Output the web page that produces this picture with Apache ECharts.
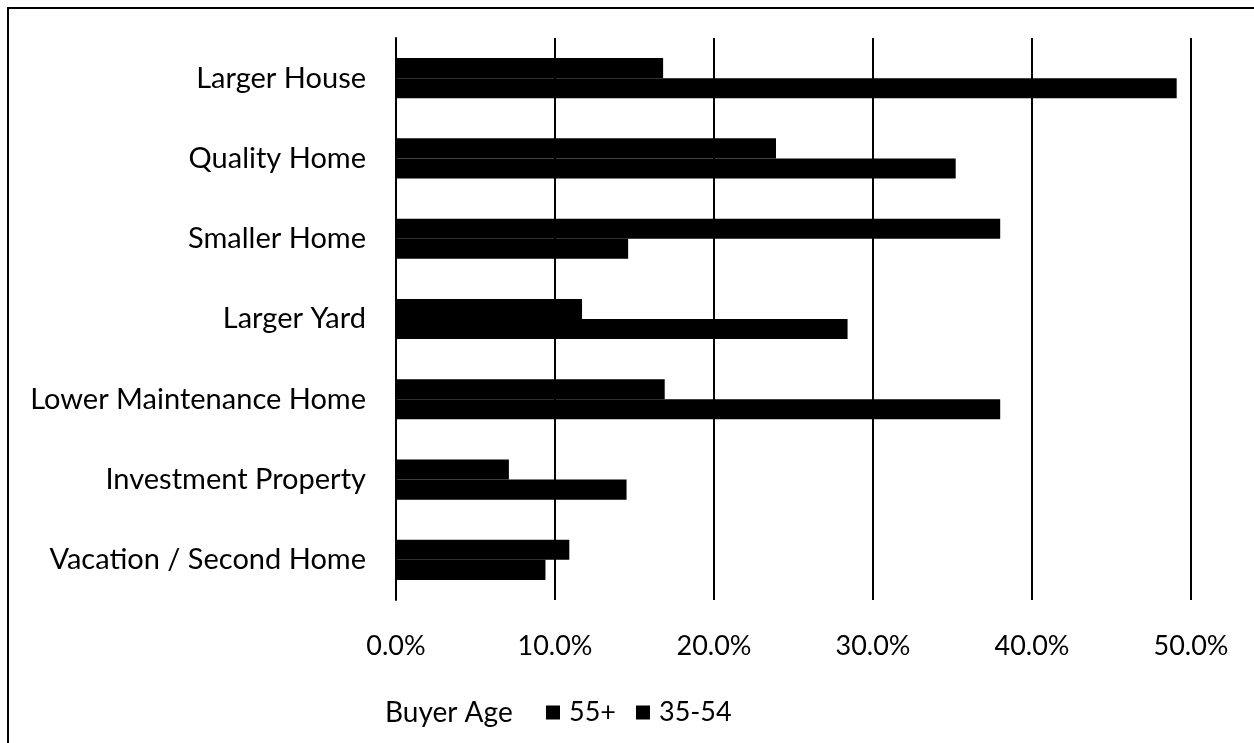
<!DOCTYPE html>
<html><head><meta charset="utf-8">
<script src="https://cdn.jsdelivr.net/npm/echarts@6/dist/echarts.min.js"></script>
<style>html,body{margin:0;padding:0;background:#fff}#c{width:1254px;height:743px}</style>
</head><body><div id="c"></div>
<script>
const categories = ['Larger House','Quality Home','Smaller Home','Larger Yard','Lower Maintenance Home','Investment Property','Vacation / Second Home'];
const seriesNames = ['55+','35-54'];
const values55 = [16.8, 23.9, 38.0, 11.7, 16.9, 7.1, 10.9];
const values3554 = [49.1, 35.2, 14.6, 28.4, 38.0, 14.5, 9.4];
const xTicks = [0, 10, 20, 30, 40, 50];
const legendTitle = 'Buyer Age';

const font = 'Lato, "Open Sans", sans-serif';
const chart = echarts.init(document.getElementById('c'));
chart.setOption({
  animation: false,
  backgroundColor: '#fff',
  grid: {left: 396, right: 63, top: 38, bottom: 143, containLabel: false},
  xAxis: {
    type: 'value', min: xTicks[0], max: xTicks[xTicks.length-1], interval: 10,
    axisLine: {show: false}, axisTick: {show: false},
    splitLine: {show: true, lineStyle: {color: '#000', width: 2}},
    axisLabel: {formatter: v => v.toFixed(1) + '%', color: '#000', fontSize: 27, fontFamily: font, margin: 33}
  },
  yAxis: {
    type: 'category', data: categories, inverse: true,
    axisLine: {show: true, lineStyle: {color: '#000', width: 2}}, axisTick: {show: false},
    axisLabel: {color: '#000', fontSize: 29, fontFamily: font, margin: 30}
  },
  legend: {
    left: 541, top: 694, itemWidth: 14, itemHeight: 14, itemGap: 20,
    icon: 'rect',
    textStyle: {color: '#000', fontSize: 27, fontFamily: font, padding: [0, 0, 0, 4]},
    data: seriesNames
  },
  graphic: [
    {type: 'rect', shape: {x: 8, y: 8, width: 1400, height: 900}, style: {fill: 'none', stroke: '#000', lineWidth: 2}, z: 100},
    {type: 'text', left: 385, top: 699, style: {text: legendTitle, fill: '#000', font: '28px ' + font}}
  ],
  series: [
    {name: seriesNames[0], type: 'bar', data: values55, barCategoryGap: '50%', barGap: '0%', itemStyle: {color: '#000'}},
    {name: seriesNames[1], type: 'bar', data: values3554, barGap: '0%', itemStyle: {color: '#000'}}
  ]
});
</script></body></html>
